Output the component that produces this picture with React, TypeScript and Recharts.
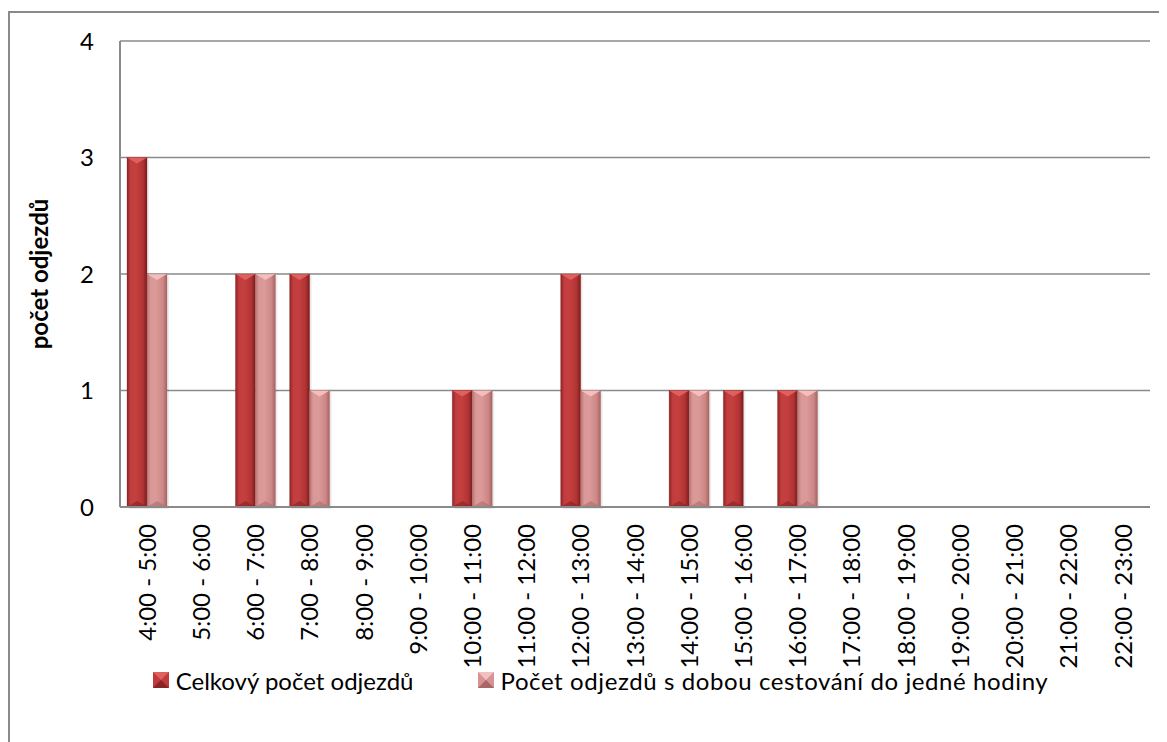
import React from 'react';
import { BarChart, Bar, XAxis, YAxis, CartesianGrid, Legend, Label } from 'recharts';

// Hourly departure slots
const categories = [
  '4:00 - 5:00', '5:00 - 6:00', '6:00 - 7:00', '7:00 - 8:00', '8:00 - 9:00',
  '9:00 - 10:00', '10:00 - 11:00', '11:00 - 12:00', '12:00 - 13:00', '13:00 - 14:00',
  '14:00 - 15:00', '15:00 - 16:00', '16:00 - 17:00', '17:00 - 18:00', '18:00 - 19:00',
  '19:00 - 20:00', '20:00 - 21:00', '21:00 - 22:00', '22:00 - 23:00',
];
const totalDepartures = [3, 0, 2, 2, 0, 0, 1, 0, 2, 0, 1, 1, 1, 0, 0, 0, 0, 0, 0];
const shortTripDepartures = [2, 0, 2, 1, 0, 0, 1, 0, 1, 0, 1, 0, 1, 0, 0, 0, 0, 0, 0];
const yTicks = [0, 1, 2, 3, 4];

const SERIES_TOTAL = 'Celkový počet odjezdů';
const SERIES_SHORT = 'Počet odjezdů s dobou cestování do jedné hodiny';
const Y_TITLE = 'počet odjezdů';

const data = categories.map((slot, i) => ({
  slot,
  total: totalDepartures[i],
  short: shortTripDepartures[i],
}));

const FONT = 'Lato, "Open Sans", sans-serif';
const GRID = '#8a8a8a';

type Palette = { id: string; top: string; bottom: string; };
const RED: Palette = { id: 'gradRed', top: '#e0605f', bottom: '#7f1d1f' };
const PINK: Palette = { id: 'gradPink', top: '#f3bebd', bottom: '#a86766' };

// Bevelled bar: side-lit body, light chevron on top, darker chevron at the base
const makeBevelBar = (p: Palette) => (props: any) => {
  const { x, y, width, height } = props;
  if (!height || height <= 0) return null;
  const bevel = Math.min(6, height / 2);
  const cx = x + width / 2;
  return (
    <g>
      <rect x={x + 2} y={y + 2} width={width} height={height} fill="#000" opacity={0.08} />
      <rect x={x} y={y} width={width} height={height} fill={`url(#${p.id})`} />
      <polygon points={`${x},${y} ${x + width},${y} ${cx},${y + bevel}`} fill={p.top} />
      <polygon
        points={`${x},${y + height} ${x + width},${y + height} ${cx},${y + height - bevel}`}
        fill={p.bottom}
        opacity={0.55}
      />
      <rect x={x} y={y} width={width} height={height} fill="none" stroke={p.bottom} strokeOpacity={0.35} strokeWidth={0.8} />
    </g>
  );
};

const SlotTick = (props: any) => {
  const { x, y, payload } = props;
  return (
    <g transform={`translate(${x},${y}) rotate(-90)`}>
      <text x={0} y={0} dy="0.36em" textAnchor="end" fontFamily={FONT} fontSize={24} fill="#000">
        {payload.value}
      </text>
    </g>
  );
};

const Swatch = ({ base, light, dark }: { base: string; light: string; dark: string }) => (
  <svg width={16} height={16} style={{ display: 'block' }}>
    <rect x={0} y={0} width={16} height={16} fill={base} />
    <polygon points="0,0 16,0 8,8" fill={light} />
    <polygon points="0,16 16,16 8,8" fill={dark} />
  </svg>
);

const renderLegend = () => (
  <div
    style={{
      display: 'flex',
      justifyContent: 'center',
      alignItems: 'center',
      height: 30,
      fontFamily: FONT,
      fontSize: 24,
      color: '#000',
      whiteSpace: 'nowrap',
    }}
  >
    <Swatch base="#bf3a3b" light="#e0605f" dark="#8a2325" />
    <span style={{ marginLeft: 7 }}>{SERIES_TOTAL}</span>
    <span style={{ width: 64 }} />
    <Swatch base="#d59493" light="#f1c0bf" dark="#a86766" />
    <span style={{ marginLeft: 7, letterSpacing: 0.6 }}>{SERIES_SHORT}</span>
  </div>
);

const YTitle = (props: any) => {
  const vb = props.viewBox || {};
  const cx = (vb.x ?? 0) + 31;
  const cy = (vb.y ?? 0) + (vb.height ?? 0) / 2;
  return (
    <text
      x={cx}
      y={cy}
      dy="0.36em"
      transform={`rotate(-90, ${cx}, ${cy})`}
      textAnchor="middle"
      fontFamily={FONT}
      fontSize={24}
      fontWeight="bold"
      fill="#000"
    >
      {Y_TITLE}
    </text>
  );
};

export default function App() {
  return (
    <div style={{ position: 'relative', width: 1159, height: 734 }}>
      <style>{'html,body{overflow:hidden;background:#fff}'}</style>
      <div
        style={{
          position: 'absolute',
          left: 0,
          top: 3,
          width: 1200,
          height: 800,
          borderLeft: `2px solid ${GRID}`,
          borderTop: `2px solid ${GRID}`,
          boxSizing: 'border-box',
        }}
      />
      <div style={{ position: 'absolute', left: 0, top: 0 }}>
        <BarChart
          width={1159}
          height={734}
          data={data}
          margin={{ top: 33, right: 17, left: 0, bottom: 47 }}
          barSize={20}
          barGap={0}
        >
          <defs>
            <linearGradient id="gradRed" x1="0" y1="0" x2="1" y2="0">
              <stop offset="0%" stopColor="#8f2426" />
              <stop offset="18%" stopColor="#c23d3e" />
              <stop offset="45%" stopColor="#c4403f" />
              <stop offset="80%" stopColor="#b13334" />
              <stop offset="100%" stopColor="#7c1b1d" />
            </linearGradient>
            <linearGradient id="gradPink" x1="0" y1="0" x2="1" y2="0">
              <stop offset="0%" stopColor="#b77473" />
              <stop offset="18%" stopColor="#da9897" />
              <stop offset="45%" stopColor="#db9a99" />
              <stop offset="80%" stopColor="#cc8786" />
              <stop offset="100%" stopColor="#a66362" />
            </linearGradient>
          </defs>
          <CartesianGrid vertical={false} stroke={GRID} strokeWidth={1.5} />
          <XAxis
            dataKey="slot"
            interval={0}
            height={158}
            tickLine={false}
            axisLine={{ stroke: GRID, strokeWidth: 2 }}
            tick={<SlotTick />}
            tickMargin={17}
            tickSize={0}
          />
          <YAxis
            width={112}
            domain={[0, 4]}
            ticks={yTicks}
            tickLine={false}
            tickSize={0}
            tickMargin={26}
            axisLine={{ stroke: GRID, strokeWidth: 2 }}
            tick={{ fontFamily: FONT, fontSize: 24, fill: '#000' }}
          >
            <Label content={<YTitle />} />
          </YAxis>
          <Legend
            verticalAlign="bottom"
            content={renderLegend}
            wrapperStyle={{ left: 0, width: 1185 }}
          />
          <Bar dataKey="total" name={SERIES_TOTAL} shape={makeBevelBar(RED)} isAnimationActive={false} />
          <Bar dataKey="short" name={SERIES_SHORT} shape={makeBevelBar(PINK)} isAnimationActive={false} />
        </BarChart>
      </div>
    </div>
  );
}
